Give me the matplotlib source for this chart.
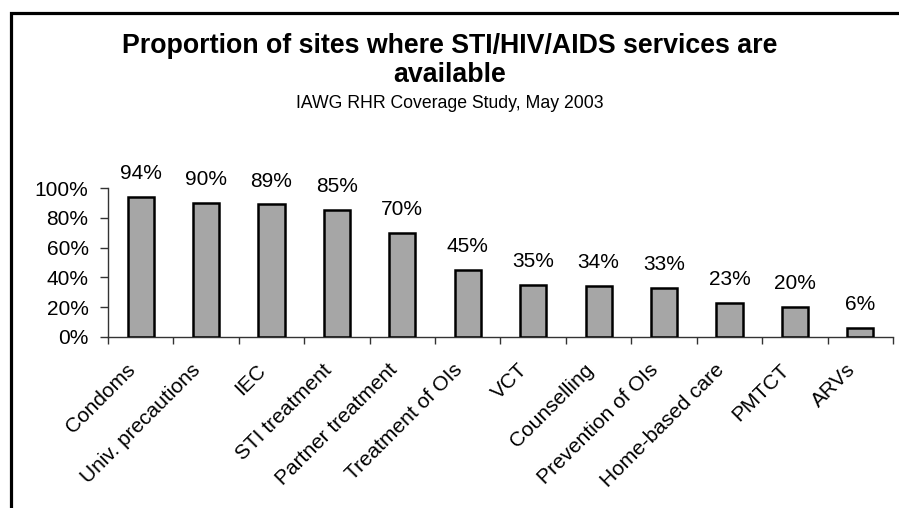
import matplotlib
matplotlib.use("Agg")
import matplotlib.pyplot as plt
from matplotlib.patches import Rectangle

categories = ["Condoms", "Univ. precautions", "IEC", "STI treatment", "Partner treatment",
              "Treatment of OIs", "VCT", "Counselling", "Prevention of OIs",
              "Home-based care", "PMTCT", "ARVs"]
values = [94, 90, 89, 85, 70, 45, 35, 34, 33, 23, 20, 6]
yticks = [0, 20, 40, 60, 80, 100]
ytick_labels = ["0%", "20%", "40%", "60%", "80%", "100%"]

plt.rcParams['font.family'] = ['Liberation Sans', 'DejaVu Sans']

W, H = 899, 508
fig = plt.figure(figsize=(W / 100, H / 100), dpi=100)
fig.patch.set_facecolor('white')

# outer frame (right and bottom edges fall outside the picture)
top = 1 - 13.5 / H
fig.patches.append(Rectangle((10.5 / W, -0.05), 1.2, top + 0.05,
                             transform=fig.transFigure, fill=False, edgecolor='black',
                             linewidth=2.3, zorder=0))

ax = fig.add_axes([108 / W, 1 - 337 / H, (893 - 108) / W, (337 - 188) / H])
x = list(range(len(categories)))
ax.bar(x, values, width=0.4, color='#A6A6A6', edgecolor='black', linewidth=1.8, zorder=3)
ax.set_xlim(-0.5, len(categories) - 0.5)
ax.set_ylim(0, 100)
ax.set_yticks(yticks)
ax.set_yticklabels(ytick_labels, fontsize=15)
ax.set_xticks([i - 0.5 for i in range(len(categories) + 1)])
ax.set_xticklabels([])
ax.tick_params(axis='x', direction='out', length=5, width=1, color='#333333')
ax.tick_params(axis='y', direction='out', length=6, width=1, color='#333333', pad=8)
for s in ['top', 'right']:
    ax.spines[s].set_visible(False)
for s in ['left', 'bottom']:
    ax.spines[s].set_linewidth(1)
    ax.spines[s].set_color('#333333')

for i, v in enumerate(values):
    ax.text(i, v + 12, f"{v}%", ha='center', va='baseline', fontsize=15, clip_on=False)

for i, c in enumerate(categories):
    ax.text(i - 0.23, -15.7, c, rotation=45, ha='right', va='top', rotation_mode='anchor',
            fontsize=15, transform=ax.transData, clip_on=False)

fig.text(0.5, 1 - 46 / H, "Proportion of sites where STI/HIV/AIDS services are",
         ha='center', va='center', fontsize=19.3, fontweight='bold')
fig.text(0.5, 1 - 75 / H, "available", ha='center', va='center', fontsize=19.3, fontweight='bold')
fig.text(0.5, 1 - 103 / H, "IAWG RHR Coverage Study, May 2003", ha='center', va='center', fontsize=12.7)

fig.savefig("out.png", dpi=100)
